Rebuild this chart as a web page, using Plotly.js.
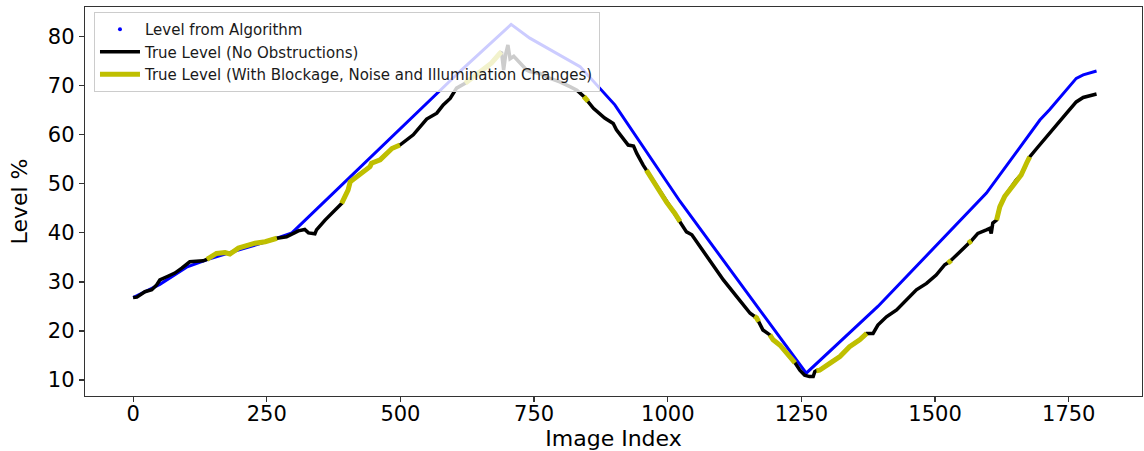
<!DOCTYPE html>
<html>
<head>
<meta charset="utf-8">
<script src="https://cdn.plot.ly/plotly-3.0.1.min.js"></script>
<style>html,body{margin:0;padding:0;background:#fff;}#chart{width:1144px;height:451px;}</style>
</head>
<body>
<div id="chart"></div>
<script>
// Level from Algorithm (blue)
const algoIdx = [0, 50, 100, 140, 200, 250, 297, 400, 500, 614, 707, 742, 836, 901, 1023, 1100, 1259, 1393, 1527, 1596, 1696, 1714, 1764, 1777, 1802];
const algoLevel = [26.8, 29.5, 33.0, 34.6, 36.6, 38.2, 40.0, 50.8, 61.2, 73.2, 82.5, 79.7, 73.9, 66.1, 46.4, 35.0, 11.4, 25.0, 40.2, 48.1, 63.0, 65.1, 71.5, 72.2, 73.0];

// True Level (No Obstructions) (black)
const trueIdx = [0, 7, 22, 35, 44, 50, 66, 78, 91, 106, 131, 138, 156, 172, 181, 197, 209, 228, 247, 269,
  287, 300, 309, 321, 328, 340, 343, 359, 390, 402, 406, 418, 443, 446, 462, 484, 499, 524, 536, 549,
  568, 580, 593, 605, 621, 655, 670, 686, 689, 693, 697, 701, 705, 712, 723, 736, 742, 761, 780, 798,
  817, 830, 843, 847, 851, 861, 882, 898, 904, 917, 926, 936, 942, 954, 960, 967, 979, 998, 1013, 1023,
  1035, 1045, 1060, 1085, 1104, 1129, 1154, 1162, 1166, 1170, 1178, 1191, 1197, 1210, 1228, 1238, 1247, 1256, 1265, 1272,
  1275, 1278, 1284, 1303, 1322, 1340, 1359, 1372, 1384, 1393, 1409, 1428, 1446, 1465, 1484, 1502, 1518, 1524, 1527, 1530,
  1546, 1562, 1565, 1568, 1580, 1596, 1602, 1605, 1608, 1615, 1621, 1630, 1643, 1652, 1661, 1671, 1677, 1690, 1708, 1727,
  1746, 1764, 1777, 1802];
const trueLevel = [26.8, 26.9, 28.0, 28.4, 29.4, 30.4, 31.2, 31.8, 32.8, 34.1, 34.3, 34.6, 35.8, 36.0, 35.7, 36.9, 37.3, 37.9, 38.2, 38.9,
  39.2, 39.8, 40.4, 40.7, 40.0, 39.8, 40.6, 42.6, 46.0, 48.7, 50.4, 51.5, 53.5, 54.2, 54.9, 57.2, 57.9, 60.0, 61.6, 63.2,
  64.4, 66.1, 67.4, 69.5, 70.5, 73.2, 74.6, 76.6, 76.9, 73.2, 76.5, 78.3, 75.5, 76.0, 74.6, 73.2, 72.9, 72.5, 71.5, 70.8,
  69.8, 69.1, 67.8, 67.3, 66.8, 65.4, 63.4, 62.3, 61.0, 59.3, 57.9, 57.7, 56.2, 53.8, 52.8, 51.5, 49.4, 46.2, 44.0, 42.3,
  40.2, 39.6, 37.2, 33.5, 30.4, 27.0, 23.6, 23.0, 22.7, 21.9, 20.2, 19.2, 18.2, 17.1, 14.8, 13.5, 12.0, 11.0, 10.7, 10.7,
  11.7, 11.9, 12.0, 13.4, 14.8, 16.8, 18.2, 19.5, 19.5, 21.2, 22.9, 24.3, 26.3, 28.4, 29.7, 31.4, 33.5, 33.8, 34.1, 34.4,
  36.2, 37.9, 38.1, 38.4, 39.9, 40.6, 40.9, 39.9, 42.0, 42.6, 45.3, 47.4, 49.4, 50.8, 51.8, 54.2, 55.5, 57.2, 59.6, 62.0,
  64.4, 66.7, 67.6, 68.3];

// Index ranges where the true level was measured with blockage, noise and illumination changes (yellow)
const obstructedStart = [138, 390, 621, 843, 960, 1162, 1191, 1278, 1524, 1562, 1615];
const obstructedEnd   = [269, 499, 689, 851, 1023, 1170, 1238, 1372, 1530, 1568, 1677];

const xTicks = [0, 250, 500, 750, 1000, 1250, 1500, 1750];
const yTicks = [10, 20, 30, 40, 50, 60, 70, 80];

const names = ['Level from Algorithm', 'True Level (No Obstructions)', 'True Level (With Blockage, Noise and Illumination Changes)'];

// build the yellow segments from the black trace's points
const yx = [], yy = [];
for (let s = 0; s < obstructedStart.length; s++) {
  for (let i = 0; i < trueIdx.length; i++) {
    if (trueIdx[i] >= obstructedStart[s] && trueIdx[i] <= obstructedEnd[s]) { yx.push(trueIdx[i]); yy.push(trueLevel[i]); }
  }
  yx.push(null); yy.push(null);
}

const FONT = 'DejaVu Sans, sans-serif';
const traces = [
  {x: [null], y: [null], mode: 'markers', name: names[0], marker: {color: '#0000ff', size: 4}, showlegend: true, hoverinfo: 'skip'},
  {x: algoIdx, y: algoLevel, mode: 'lines', line: {color: '#0000ff', width: 3}, showlegend: false, name: names[0]},
  {x: trueIdx, y: trueLevel, mode: 'lines', line: {color: '#000000', width: 3.5}, name: names[1]},
  {x: yx, y: yy, mode: 'lines', line: {color: '#bfbf00', width: 5}, name: names[2], connectgaps: false}
];

const layout = {
  width: 1144, height: 451,
  margin: {l: 85, r: 2, t: 7, b: 55},
  paper_bgcolor: '#fff', plot_bgcolor: '#fff',
  font: {family: FONT, color: '#000'},
  showlegend: true,
  legend: {
    x: 0.0085, y: 0.987, xanchor: 'left', yanchor: 'top',
    bgcolor: 'rgba(255,255,255,0.8)', bordercolor: '#cccccc', borderwidth: 1,
    font: {family: FONT, size: 15, color: '#1a1a1a'},
    tracegroupgap: 0, itemwidth: 40
  },
  xaxis: {
    range: [-90, 1887], tickvals: xTicks, ticktext: xTicks.map(String),
    showgrid: false, zeroline: false, showline: true, mirror: true, linecolor: '#333', linewidth: 1.3,
    ticks: 'outside', ticklen: 5, tickcolor: '#333', tickwidth: 1.2, ticklabelstandoff: -7,
    tickfont: {family: FONT, size: 21, color: '#000'},
    title: {text: 'Image Index', font: {family: FONT, size: 22, color: '#000'}, standoff: 11}
  },
  yaxis: {
    range: [6.74, 86.05], tickvals: yTicks, ticktext: yTicks.map(String),
    showgrid: false, zeroline: false, showline: true, mirror: true, linecolor: '#333', linewidth: 1.3,
    ticks: 'outside', ticklen: 5, tickcolor: '#333', tickwidth: 1.2,
    tickfont: {family: FONT, size: 21, color: '#000'},
    title: {text: 'Level %', font: {family: FONT, size: 22, color: '#000'}, standoff: 14}
  }
};

Plotly.newPlot('chart', traces, layout, {displayModeBar: false, staticPlot: true});
</script>
</body>
</html>
